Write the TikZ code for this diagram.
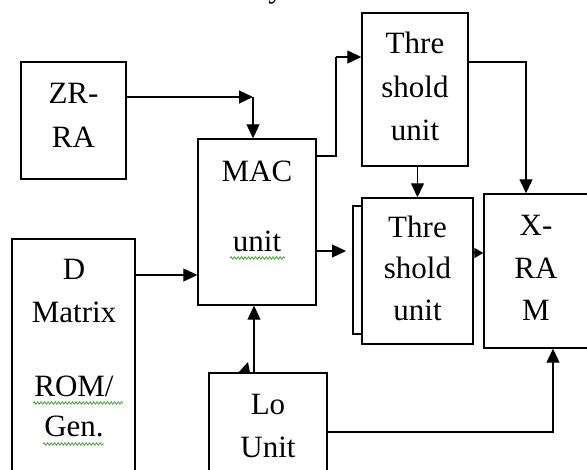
\documentclass[tikz,border=0pt]{standalone}
\usepackage{fontspec}
\setmainfont{Liberation Serif}
\usetikzlibrary{arrows.meta,calc,decorations.pathmorphing}
\definecolor{spell}{RGB}{80,170,60}
\begin{document}
\begin{tikzpicture}[x=1pt,y=-1pt,
 box/.style={draw,line width=1.4pt,fill=white,inner sep=0pt,rectangle},
 txt/.style={font=\fontsize{31pt}{37pt}\selectfont,anchor=base,inner sep=0pt},
 arr/.style={line width=1.2pt,-{Triangle[length=14pt,width=13pt]}},
 smallarr/.style={line width=1.2pt,-{Triangle[length=9pt,width=10pt]}},
 squig/.style={draw=spell,line width=0.9pt,decorate,decoration={snake,segment length=3.5pt,amplitude=1.2pt}}]
\clip (0,0) rectangle (587,470);
\useasboundingbox (0,0) rectangle (587,470);
% partial caption letter at the top edge
\node[txt] (ytop) at (276,-2) {y};
% boxes
\node[box,minimum width=105pt,minimum height=117pt] (zr) at (73.5,120.5) {};
\node[box,minimum width=118pt,minimum height=166pt] (mac) at (257,222) {};
\node[box,minimum width=106pt,minimum height=153pt] (th1) at (415,89.5) {};
\node[box,minimum width=17pt,minimum height=128pt] (th2b) at (361.5,270) {};
\node[box,minimum width=111pt,minimum height=146pt] (th2) at (417.5,271) {};
\node[box,minimum width=108pt,minimum height=154pt] (xram) at (538,271) {};
\node[box,minimum width=123pt,minimum height=241pt] (dm) at (73.5,359.5) {};
\node[box,minimum width=118pt,minimum height=107pt] (lo) at (268,426.5) {};
% texts
\node[txt] (zr1) at (73.5,104) {ZR-};
\node[txt] (zr2) at (73.5,148) {RA};
\node[txt] (mac1) at (257,182) {MAC};
\node[txt] (mac2) at (257,252) {unit};
\node[txt] (t11) at (415,54) {Thre};
\node[txt] (t12) at (415,98) {shold};
\node[txt] (t13) at (415,141) {unit};
\node[txt] (t21) at (417.5,238) {Thre};
\node[txt] (t22) at (417.5,279) {shold};
\node[txt] (t23) at (417.5,321) {unit};
\node[txt] (x1) at (536,236) {X-};
\node[txt] (x2) at (536,279) {RA};
\node[txt] (x3) at (536,321) {M};
\node[txt] (d1) at (74,280) {D};
\node[txt] (d2) at (74,323) {Matrix};
\node[txt] (d3) at (74,397) {ROM/};
\node[txt] (d4) at (74,437) {Gen.};
\node[txt] (lo1) at (268,415) {Lo};
\node[txt] (lo2) at (268,458) {Unit};
% spelling underlines
\draw[squig] (230,258) -- (285,258);
\draw[squig] (33,403) -- (123,403);
\draw[squig] (43,444) -- (104,444);
% connector coordinates
\coordinate (c1) at (253,97);
\coordinate (c2) at (198,275);
\coordinate (c3) at (336,57);
\coordinate (c3s) at (316,156);
\coordinate (c4) at (526,62);
\coordinate (c6) at (346,251);
\coordinate (c7) at (484,253);
\coordinate (c8) at (254,373);
\coordinate (c9) at (553,432);
% connectors
\draw[arr] (zr.east |- c1) -- (c1);
\draw[arr] (c1) -- (c1 |- mac.north);
\draw[arr] (dm.east |- c2) -- (c2 -| mac.west);
\draw[line width=1.2pt] (mac.east |- c3s) -| (c3);
\draw[arr] (c3) -- (c3 -| th1.west);
\draw[arr] (th1.east |- c4) -- (c4) -- (c4 |- xram.north);
\draw[arr] (th1.south -| t21) -- (t21 |- th2.north);
\draw[arr] (mac.east |- c6) -- (c6);
\draw[smallarr] (th2.east |- c7) -- (c7 -| xram.west);
\draw[arr] (lo.north -| c8) -- (c8 |- mac.south);
\draw[arr] (lo.east |- c9) -- (c9) -- (c9 |- xram.south);
% small arrowhead fragment on the Lo box
\fill (238,373) -- (250,373) -- (248,362) -- cycle;
\end{tikzpicture}
\end{document}
